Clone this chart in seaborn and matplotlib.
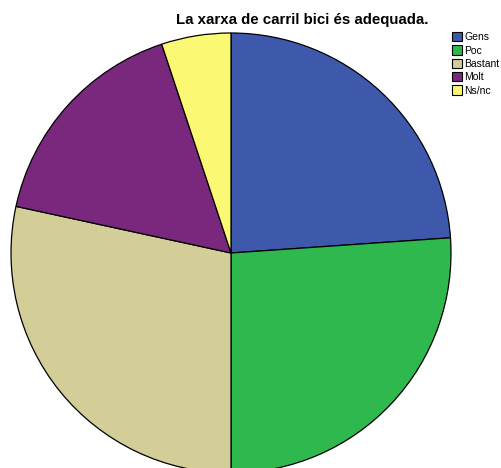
import matplotlib
matplotlib.use("Agg")
import matplotlib.pyplot as plt
import seaborn as sns

# Share of answers (%)
categories = ["Gens", "Poc", "Bastant", "Molt", "Ns/nc"]
values = [23.9, 26.1, 28.4, 16.5, 5.1]
colors = ["#3E58AC", "#2EB84E", "#D3CE97", "#79287D", "#FBF873"]

sns.set_theme(style="white")
plt.rcParams["font.family"] = ["Liberation Sans", "DejaVu Sans"]
plt.rcParams["text.color"] = "black"

fig = plt.figure(figsize=(5.01, 4.68), dpi=100)
# pie of radius 220 px centred at (231, 253) px from the top-left corner
ax = fig.add_axes([(231 - 220) / 501, (468 - 253 - 220) / 468, 440 / 501, 440 / 468])

wedges, _ = ax.pie(values, colors=sns.color_palette(colors), startangle=90,
                   counterclock=False,
                   wedgeprops={"edgecolor": "black", "linewidth": 0.9})
ax.set_xlim(-1, 1)
ax.set_ylim(-1, 1)
ax.axis("off")

fig.text(302 / 501, 1 - 20 / 468, "La xarxa de carril bici és adequada.",
         ha="center", va="center", fontsize=10.8, fontweight="bold", color="black")

leg = fig.legend(wedges, categories, loc="upper left",
                 bbox_to_anchor=(452 / 501, 1 - 32 / 468),
                 frameon=False, fontsize=7.5, handlelength=1.0, handleheight=1.0,
                 handletextpad=0.2, labelspacing=0.3, borderpad=0, borderaxespad=0,
                 labelcolor="black")
for h in leg.legend_handles:
    h.set_edgecolor("black")
    h.set_linewidth(0.8)

fig.savefig("out.png", dpi=100)
